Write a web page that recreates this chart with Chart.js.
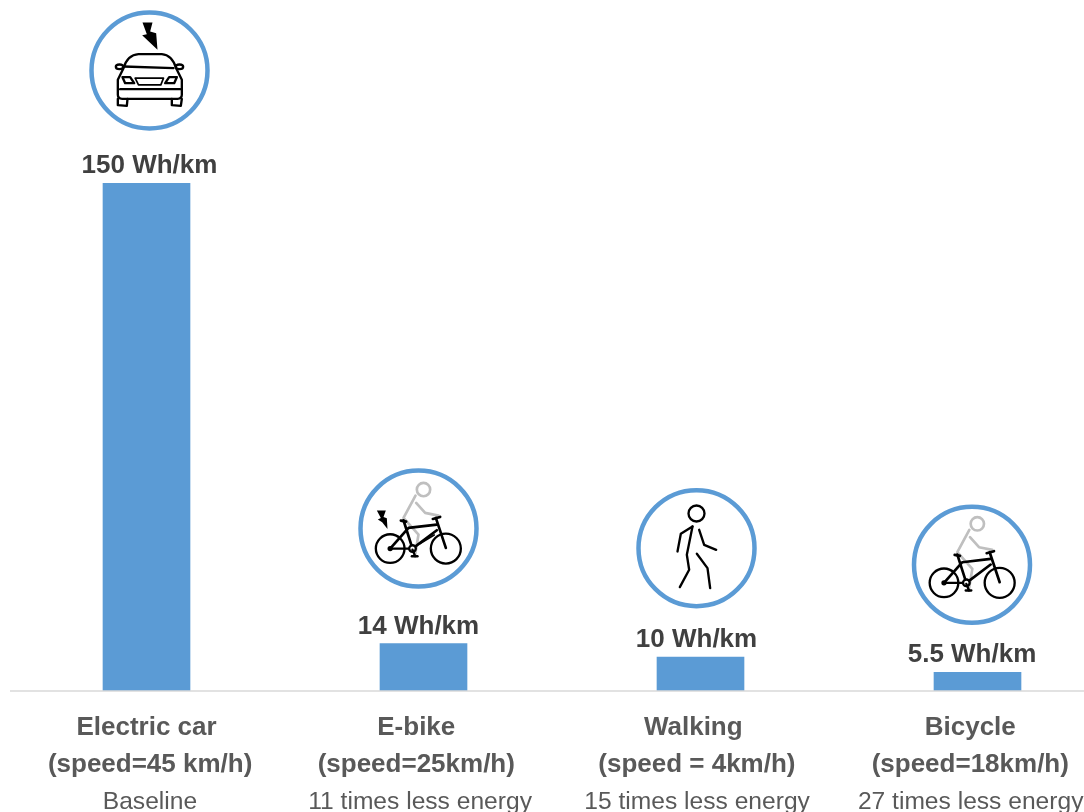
<!DOCTYPE html>
<html>
<head>
<meta charset="utf-8">
<style>
html,body{margin:0;padding:0;background:#fff;overflow:hidden;width:1084px;height:812px}
canvas{position:absolute;left:0;top:0}
</style>
<script src="https://cdn.jsdelivr.net/npm/chart.js@4"></script>
</head>
<body>
<canvas id="c" width="1130" height="840"></canvas>
<script>
const categories = [["Electric car"," (speed=45 km/h)"],["E-bike  ","(speed=25km/h)  "],["Walking  ","(speed = 4km/h) "],["Bicycle  ","(speed=18km/h)  "]];
const comparisons = [" Baseline","11 times less energy ","15 times less energy ","27 times less energy  "];
const energyWhPerKm = [150,14,10,5.5];
const iconNames = ["car","ebike","walker","bicycle"];

const BLUE='#5b9bd5', GREY='#bfbfbf', BLACK='#000';
const BOLD='bold 26px "Liberation Sans"';
function line(c,pts,col,w){c.beginPath();c.strokeStyle=col;c.lineWidth=w;c.lineJoin='round';c.lineCap='round';pts.forEach((p,i)=>i?c.lineTo(p[0],p[1]):c.moveTo(p[0],p[1]));c.stroke();}
function ring(c,x,y,r,col,w){c.beginPath();c.strokeStyle=col;c.lineWidth=w;c.arc(x,y,r,0,Math.PI*2);c.stroke();}
function fill(c,pts){c.beginPath();c.fillStyle=BLACK;pts.forEach((p,i)=>i?c.lineTo(p[0],p[1]):c.moveTo(p[0],p[1]));c.closePath();c.fill();}
function bikeShape(c,dx,dy){
  const P=(x,y)=>[x+dx,y+dy];
  // rider
  ring(c,250+dx,90+dy,20,GREY,8);
  line(c,[P(226,108),P(190,175),P(235,225),P(225,285)],GREY,8);
  line(c,[P(228,130),P(255,160),P(295,168)],GREY,8);
  // wheels
  ring(c,150+dx,267+dy,43,BLACK,7);
  ring(c,317+dx,267+dy,45,BLACK,7);
  // frame
  line(c,[P(150,267),P(205,205),P(290,195)],BLACK,8);
  line(c,[P(150,267),P(217,267)],BLACK,7);
  line(c,[P(190,182),P(217,267)],BLACK,8);
  line(c,[P(287,175),P(317,265)],BLACK,8);
  line(c,[P(217,267),P(290,212)],BLACK,8);
  line(c,[P(182,183),P(198,186)],BLACK,8);
  line(c,[P(278,178),P(300,172)],BLACK,8);
  c.beginPath();c.fillStyle='#fff';c.arc(217+dx,267+dy,10,0,Math.PI*2);c.fill();
  ring(c,217+dx,267+dy,10,BLACK,7);
  ring(c,150+dx,267+dy,5,BLACK,6);
  line(c,[P(217,270),P(225,290)],BLACK,7);
  line(c,[P(215,290),P(232,290)],BLACK,7);
}
const icons = {
  car:{dx:3,ox:238,oy:212,up:112.5,draw(c){
    fill(c,[[217,68],[230,103],[216,106],[262,150],[258,100],[240,95],[247,68]]);
    c.strokeStyle=BLACK;c.lineWidth=7;c.lineJoin='round';
    c.beginPath();c.moveTo(143,285);c.lineTo(143,240);c.lineTo(160,205);c.quadraticCurveTo(172,165,205,163);c.lineTo(275,163);c.quadraticCurveTo(305,165,318,205);c.lineTo(335,240);c.lineTo(335,285);c.quadraticCurveTo(335,297,322,297);c.lineTo(156,297);c.quadraticCurveTo(143,297,143,285);c.stroke();
    line(c,[[160,200],[310,205]],BLACK,7);
    c.beginPath();c.ellipse(148,201,11,7,0,0,Math.PI*2);c.stroke();
    c.beginPath();c.ellipse(328,201,11,7,0,0,Math.PI*2);c.stroke();
    line(c,[[157,232],[180,232],[192,250],[165,250],[157,232]],BLACK,7);
    line(c,[[320,232],[297,232],[285,250],[312,250],[320,232]],BLACK,7);
    line(c,[[195,235],[280,235],[272,255],[205,255],[195,235]],BLACK,5);
    line(c,[[150,268],[330,268]],BLACK,7);
    line(c,[[143,297],[143,316],[170,318],[172,297]],BLACK,7);
    line(c,[[305,297],[305,316],[332,318],[335,297]],BLACK,7);
  }},
  ebike:{dx:-5,ox:235,oy:207,up:115,draw(c){
    fill(c,[[110,153],[137,153],[130,172],[140,176],[142,208],[126,188],[113,180],[122,175]]);
    bikeShape(c,0,0);
    line(c,[[240,252],[282,226]],BLACK,5);
  }},
  walker:{dx:-4,ox:227,oy:205,up:109,draw(c){
    ring(c,227,101,24,BLACK,7);
    line(c,[[215,140],[180,162],[170,215]],BLACK,7);
    line(c,[[215,140],[198,225],[205,270],[177,322]],BLACK,7);
    line(c,[[235,150],[250,195],[286,210]],BLACK,7);
    line(c,[[228,222],[260,265],[268,325]],BLACK,7);
  }},
  bicycle:{dx:-5.5,ox:216,oy:195,up:107.5,draw(c){bikeShape(c,-18,-18);}}
};

const cartoon = {
  id:'cartoon',
  afterDatasetsDraw(chart){
    const c=chart.ctx, x=chart.scales.x, y=chart.scales.y, base=y.getPixelForValue(0);
    c.save();
    c.beginPath();c.strokeStyle='#d9d9d9';c.lineWidth=1.5;c.moveTo(10,base);c.lineTo(chart.width,base);c.stroke();
    energyWhPerKm.forEach((v,i)=>{
      const px=x.getPixelForValue(i), py=y.getPixelForValue(v), ic=icons[iconNames[i]];
      c.fillStyle='#404040';c.font=BOLD;c.textAlign='center';c.textBaseline='alphabetic';
      c.fillText(v+' Wh/km',px+ic.dx,py-10);
      const iy=py-ic.up;
      c.save();
      ring(c,px+ic.dx,iy,58,BLUE,4.5);
      c.translate(px+ic.dx,iy);c.scale(1/3,1/3);c.translate(-ic.ox,-ic.oy);
      ic.draw(c);
      c.restore();
    });
    c.restore();
  }
};

new Chart(document.getElementById('c'),{
  type:'bar',
  data:{labels:categories,datasets:[{data:energyWhPerKm,backgroundColor:BLUE,borderWidth:0,barThickness:87}]},
  plugins:[cartoon],
  options:{
    responsive:false,animation:false,devicePixelRatio:1,
    layout:{padding:{left:8,right:14,top:183,bottom:0}},
    plugins:{legend:{display:false},tooltip:{enabled:false},title:{display:false}},
    scales:{
      y:{display:false,min:0,max:150},
      x:{offset:true,z:0,grid:{display:false},border:{display:false},
        afterFit(s){s.height=90;},
        ticks:{autoSkip:false,maxRotation:0,minRotation:0,color:'#595959',padding:10,
          font:{family:'"Liberation Sans"',size:26,weight:'bold',lineHeight:1.42}}},
      x2:{axis:'x',type:'category',position:'bottom',labels:comparisons,offset:true,z:1,grid:{display:false},border:{display:false},
        afterFit(s){s.height=59;},
        ticks:{autoSkip:false,maxRotation:0,minRotation:0,color:'#595959',padding:0,
          font:{family:'"Liberation Sans"',size:24.6,lineHeight:1.1}}}
    }
  }
});
</script>
</body>
</html>
